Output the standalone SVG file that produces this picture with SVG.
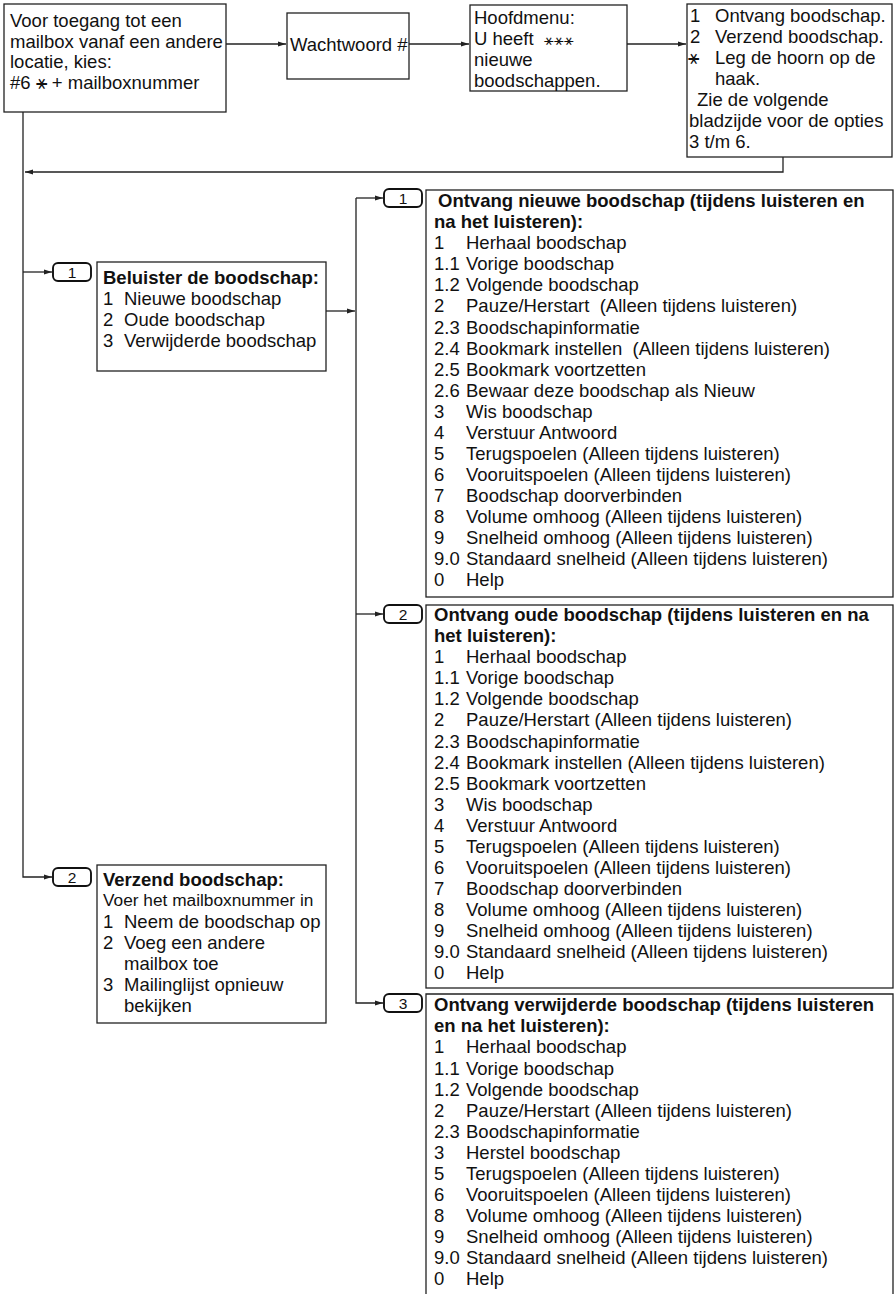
<svg xmlns="http://www.w3.org/2000/svg" width="896" height="1294" viewBox="0 0 896 1294">
<style>
text{font-family:"Liberation Sans",Arial,"DejaVu Sans",sans-serif;font-size:18.5px;fill:#111;white-space:pre}
.b{font-weight:bold}
.sm{font-size:17.3px}
.num{font-size:15.5px;text-anchor:middle}
.box{fill:#fff;stroke:#222;stroke-width:1.3}
.badge{fill:#fff;stroke:#111;stroke-width:1.9}
.con{fill:none;stroke:#222;stroke-width:1.3}
.sym{font-family:"DejaVu Sans",sans-serif;font-size:19px}
</style>
<defs>
<marker id="ah" markerWidth="8" markerHeight="6" refX="8" refY="3" orient="auto" markerUnits="userSpaceOnUse"><path d="M0,0.6 L8,3 L0,5.4 z" fill="#222"/></marker>
</defs>
<rect width="896" height="1294" fill="#fff"/>

<g id="connectors">
<path class="con" d="M226,44 H286" marker-end="url(#ah)"/>
<path class="con" d="M409,44 H469" marker-end="url(#ah)"/>
<path class="con" d="M627,44 H686" marker-end="url(#ah)"/>
<path class="con" d="M783,157 V172 H25" marker-end="url(#ah)"/>
<path class="con" d="M23,112 V877 H52" marker-end="url(#ah)"/>
<path class="con" d="M23,272 H52" marker-end="url(#ah)"/>
<path class="con" d="M326,311 H355" marker-end="url(#ah)"/>
<path class="con" d="M356,198 V1003 H383" marker-end="url(#ah)"/>
<path class="con" d="M356,198 H383" marker-end="url(#ah)"/>
<path class="con" d="M356,614 H383" marker-end="url(#ah)"/>
</g>

<g id="start">
<rect class="box" x="4" y="4" width="222" height="108"/>
<text x="10" y="27">Voor toegang tot een</text>
<text x="10" y="48">mailbox vanaf een andere</text>
<text x="10" y="68">locatie, kies:</text>
<text x="10" y="89">#6 <tspan class="sym">⚹</tspan> + mailboxnummer</text>
</g>

<g id="password">
<rect class="box" x="287" y="13" width="122" height="66"/>
<text x="290" y="51">Wachtwoord #</text>
</g>

<g id="mainmenu">
<rect class="box" x="470" y="5" width="157" height="86"/>
<text x="474" y="24">Hoofdmenu:</text>
<text x="474" y="45">U heeft  <tspan class="sym" style="font-size:16px">⚹⚹⚹</tspan></text>
<text x="474" y="66">nieuwe</text>
<text x="474" y="87">boodschappen.</text>
</g>

<g id="options">
<rect class="box" x="687" y="4" width="205" height="153"/>
<text y="22"><tspan x="690">1</tspan><tspan x="715">Ontvang boodschap.</tspan></text>
<text y="43"><tspan x="690">2</tspan><tspan x="715">Verzend boodschap.</tspan></text>
<text y="64"><tspan x="688" class="sym">⚹</tspan><tspan x="715">Leg de hoorn op de</tspan></text>
<text x="715" y="85">haak.</text>
<text x="697" y="106">Zie de volgende</text>
<text x="689" y="127">bladzijde voor de opties</text>
<text x="689" y="148">3 t/m 6.</text>
</g>

<g id="badge-l1">
<rect class="badge" x="53" y="263" width="38" height="18" rx="5"/>
<text class="num" x="72" y="277.5">1</text>
</g>

<g id="listen">
<rect class="box" x="97" y="262" width="229" height="109"/>
<text class="b" x="103" y="284">Beluister de boodschap:</text>
<text y="305"><tspan x="103">1</tspan><tspan x="124">Nieuwe boodschap</tspan></text>
<text y="326"><tspan x="103">2</tspan><tspan x="124">Oude boodschap</tspan></text>
<text y="347"><tspan x="103">3</tspan><tspan x="124">Verwijderde boodschap</tspan></text>
</g>

<g id="badge-l2">
<rect class="badge" x="53" y="868" width="38" height="18" rx="5"/>
<text class="num" x="72" y="882.5">2</text>
</g>

<g id="send">
<rect class="box" x="97" y="865" width="229" height="158"/>
<text class="b" x="103" y="886">Verzend boodschap:</text>
<text class="sm" x="103" y="906">Voer het mailboxnummer in</text>
<text y="928"><tspan x="103">1</tspan><tspan x="124">Neem de boodschap op</tspan></text>
<text y="949"><tspan x="103">2</tspan><tspan x="124">Voeg een andere</tspan></text>
<text x="124" y="970">mailbox toe</text>
<text y="991"><tspan x="103">3</tspan><tspan x="124">Mailinglijst opnieuw</tspan></text>
<text x="124" y="1012">bekijken</text>
</g>

<g id="badge-r1">
<rect class="badge" x="384" y="189" width="38" height="18" rx="5"/>
<text class="num" x="403" y="203.5">1</text>
</g>

<g id="new-msg">
<rect class="box" x="426" y="190" width="467" height="407"/>
<text class="b" x="438" y="207">Ontvang nieuwe boodschap (tijdens luisteren en</text>
<text class="b" x="434" y="228">na het luisteren):</text>
<text y="249"><tspan x="434">1</tspan><tspan x="466">Herhaal boodschap</tspan></text>
<text y="270"><tspan x="434">1.1</tspan><tspan x="466">Vorige boodschap</tspan></text>
<text y="291"><tspan x="434">1.2</tspan><tspan x="466">Volgende boodschap</tspan></text>
<text y="312"><tspan x="434">2</tspan><tspan x="466">Pauze/Herstart  (Alleen tijdens luisteren)</tspan></text>
<text y="333.5"><tspan x="434">2.3</tspan><tspan x="466">Boodschapinformatie</tspan></text>
<text y="354.5"><tspan x="434">2.4</tspan><tspan x="466">Bookmark instellen  (Alleen tijdens luisteren)</tspan></text>
<text y="375.5"><tspan x="434">2.5</tspan><tspan x="466">Bookmark voortzetten</tspan></text>
<text y="396.5"><tspan x="434">2.6</tspan><tspan x="466">Bewaar deze boodschap als Nieuw</tspan></text>
<text y="417.5"><tspan x="434">3</tspan><tspan x="466">Wis boodschap</tspan></text>
<text y="438.5"><tspan x="434">4</tspan><tspan x="466">Verstuur Antwoord</tspan></text>
<text y="460"><tspan x="434">5</tspan><tspan x="466">Terugspoelen (Alleen tijdens luisteren)</tspan></text>
<text y="481"><tspan x="434">6</tspan><tspan x="466">Vooruitspoelen (Alleen tijdens luisteren)</tspan></text>
<text y="502"><tspan x="434">7</tspan><tspan x="466">Boodschap doorverbinden</tspan></text>
<text y="523"><tspan x="434">8</tspan><tspan x="466">Volume omhoog (Alleen tijdens luisteren)</tspan></text>
<text y="544"><tspan x="434">9</tspan><tspan x="466">Snelheid omhoog (Alleen tijdens luisteren)</tspan></text>
<text y="565"><tspan x="434">9.0</tspan><tspan x="466">Standaard snelheid (Alleen tijdens luisteren)</tspan></text>
<text y="586"><tspan x="434">0</tspan><tspan x="466">Help</tspan></text>
</g>

<g id="badge-r2">
<rect class="badge" x="384" y="605" width="38" height="18" rx="5"/>
<text class="num" x="403" y="619.5">2</text>
</g>

<g id="old-msg">
<rect class="box" x="426" y="605" width="467" height="383"/>
<text class="b" x="434" y="621">Ontvang oude boodschap (tijdens luisteren en na</text>
<text class="b" x="434" y="642">het luisteren):</text>
<text y="663"><tspan x="434">1</tspan><tspan x="466">Herhaal boodschap</tspan></text>
<text y="684"><tspan x="434">1.1</tspan><tspan x="466">Vorige boodschap</tspan></text>
<text y="705"><tspan x="434">1.2</tspan><tspan x="466">Volgende boodschap</tspan></text>
<text y="726"><tspan x="434">2</tspan><tspan x="466">Pauze/Herstart (Alleen tijdens luisteren)</tspan></text>
<text y="747.5"><tspan x="434">2.3</tspan><tspan x="466">Boodschapinformatie</tspan></text>
<text y="768.5"><tspan x="434">2.4</tspan><tspan x="466">Bookmark instellen (Alleen tijdens luisteren)</tspan></text>
<text y="789.5"><tspan x="434">2.5</tspan><tspan x="466">Bookmark voortzetten</tspan></text>
<text y="810.5"><tspan x="434">3</tspan><tspan x="466">Wis boodschap</tspan></text>
<text y="831.5"><tspan x="434">4</tspan><tspan x="466">Verstuur Antwoord</tspan></text>
<text y="852.5"><tspan x="434">5</tspan><tspan x="466">Terugspoelen (Alleen tijdens luisteren)</tspan></text>
<text y="874"><tspan x="434">6</tspan><tspan x="466">Vooruitspoelen (Alleen tijdens luisteren)</tspan></text>
<text y="895"><tspan x="434">7</tspan><tspan x="466">Boodschap doorverbinden</tspan></text>
<text y="916"><tspan x="434">8</tspan><tspan x="466">Volume omhoog (Alleen tijdens luisteren)</tspan></text>
<text y="937"><tspan x="434">9</tspan><tspan x="466">Snelheid omhoog (Alleen tijdens luisteren)</tspan></text>
<text y="958"><tspan x="434">9.0</tspan><tspan x="466">Standaard snelheid (Alleen tijdens luisteren)</tspan></text>
<text y="979"><tspan x="434">0</tspan><tspan x="466">Help</tspan></text>
</g>

<g id="badge-r3">
<rect class="badge" x="384" y="994" width="38" height="18" rx="5"/>
<text class="num" x="403" y="1008.5">3</text>
</g>

<g id="deleted-msg">
<path class="box" d="M426,1300 V994 H893 V1300"/>
<text class="b" x="434" y="1011">Ontvang verwijderde boodschap (tijdens luisteren</text>
<text class="b" x="434" y="1032">en na het luisteren):</text>
<text y="1053"><tspan x="434">1</tspan><tspan x="466">Herhaal boodschap</tspan></text>
<text y="1074.5"><tspan x="434">1.1</tspan><tspan x="466">Vorige boodschap</tspan></text>
<text y="1095.5"><tspan x="434">1.2</tspan><tspan x="466">Volgende boodschap</tspan></text>
<text y="1116.5"><tspan x="434">2</tspan><tspan x="466">Pauze/Herstart (Alleen tijdens luisteren)</tspan></text>
<text y="1137.5"><tspan x="434">2.3</tspan><tspan x="466">Boodschapinformatie</tspan></text>
<text y="1158.5"><tspan x="434">3</tspan><tspan x="466">Herstel boodschap</tspan></text>
<text y="1180"><tspan x="434">5</tspan><tspan x="466">Terugspoelen (Alleen tijdens luisteren)</tspan></text>
<text y="1201"><tspan x="434">6</tspan><tspan x="466">Vooruitspoelen (Alleen tijdens luisteren)</tspan></text>
<text y="1222"><tspan x="434">8</tspan><tspan x="466">Volume omhoog (Alleen tijdens luisteren)</tspan></text>
<text y="1243"><tspan x="434">9</tspan><tspan x="466">Snelheid omhoog (Alleen tijdens luisteren)</tspan></text>
<text y="1264"><tspan x="434">9.0</tspan><tspan x="466">Standaard snelheid (Alleen tijdens luisteren)</tspan></text>
<text y="1285"><tspan x="434">0</tspan><tspan x="466">Help</tspan></text>
</g>
</svg>
